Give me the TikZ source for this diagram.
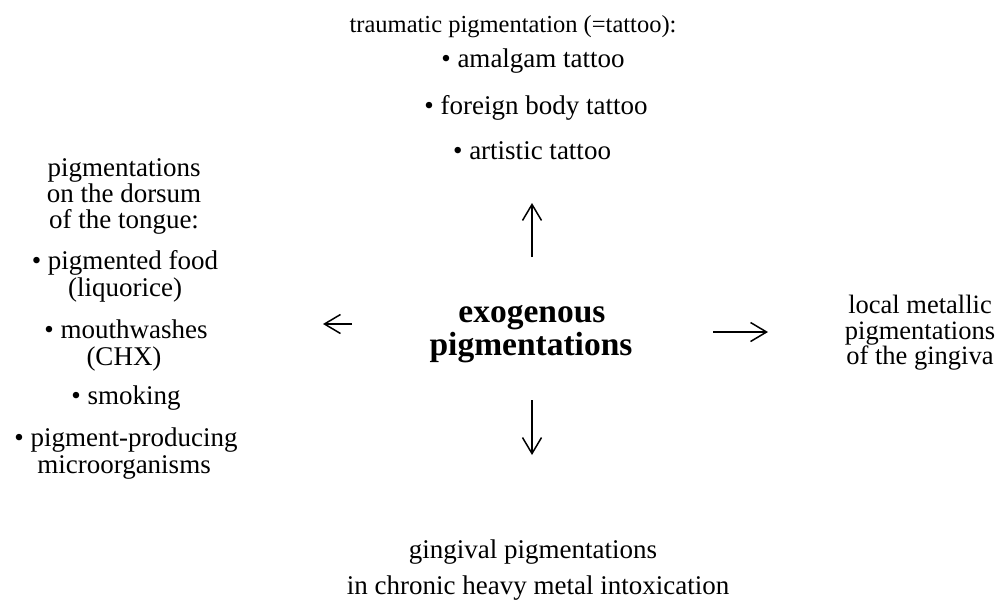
\documentclass[tikz,border=0pt]{standalone}
\usepackage{fontspec}
\setmainfont{Liberation Serif}
\usetikzlibrary{arrows.meta}
\begin{document}
\begin{tikzpicture}[x=1pt,y=-1pt,
  txt/.style={anchor=base,inner sep=0pt,font=\fontsize{27}{28}\selectfont},
  ttl/.style={anchor=base,inner sep=0pt,font=\fontsize{24.5}{26}\selectfont},
  blk/.style={anchor=north,inner sep=0pt,align=center,font=\fontsize{26.5}{25.5}\selectfont},
  big/.style={anchor=base,inner sep=0pt,font=\fontsize{33.5}{34}\selectfont\bfseries},
  arr/.style={line width=1.5pt,-{Straight Barb[length=16pt,width=19pt,line width=1.5pt]}}]
\useasboundingbox (0,0) rectangle (1000,603);
% centre
\node[big] (c1) at (532,322) {exogenous};
\node[big] (c2) at (531,355) {pigmentations};
% top
\node[ttl] (t0) at (513,32) {traumatic pigmentation (=tattoo):};
\node[txt] (t1) at (533,67) {• amalgam tattoo};
\node[txt] (t2) at (536,114) {• foreign body tattoo};
\node[txt] (t3) at (532,159) {• artistic tattoo};
% left
\node[txt] (l1) at (124,176) {pigmentations};
\node[txt] (l2) at (124,202) {on the dorsum};
\node[txt] (l3) at (124,228) {of the tongue:};
\node[txt] (l4) at (125,269) {• pigmented food};
\node[txt] (l5) at (125,296) {(liquorice)};
\node[txt] (l6) at (126,338) {• mouthwashes};
\node[txt] (l7) at (124,365) {(CHX)};
\node[txt] (l8) at (126,404) {• smoking};
\node[txt] (l9) at (126,446) {• pigment-producing};
\node[txt] (l10) at (124,473) {microorganisms};
% right
\node[blk] (r) at (920,295) {local metallic\\pigmentations\\of the gingiva};
% bottom
\node[txt] (b1) at (533,558) {gingival pigmentations};
\node[txt] (b2) at (538,594) {in chronic heavy metal intoxication};
% arrows
\coordinate (uS) at (532,257); \coordinate (uE) at (532,203);
\coordinate (dS) at (532,400); \coordinate (dE) at (532,455);
\coordinate (lS) at (352,324); \coordinate (lE) at (323,324);
\coordinate (rS) at (713,332); \coordinate (rE) at (768,332);
\draw[arr] (uS) -- (uE);
\draw[arr] (dS) -- (dE);
\draw[arr] (lS) -- (lE);
\draw[arr] (rS) -- (rE);
\end{tikzpicture}
\end{document}
